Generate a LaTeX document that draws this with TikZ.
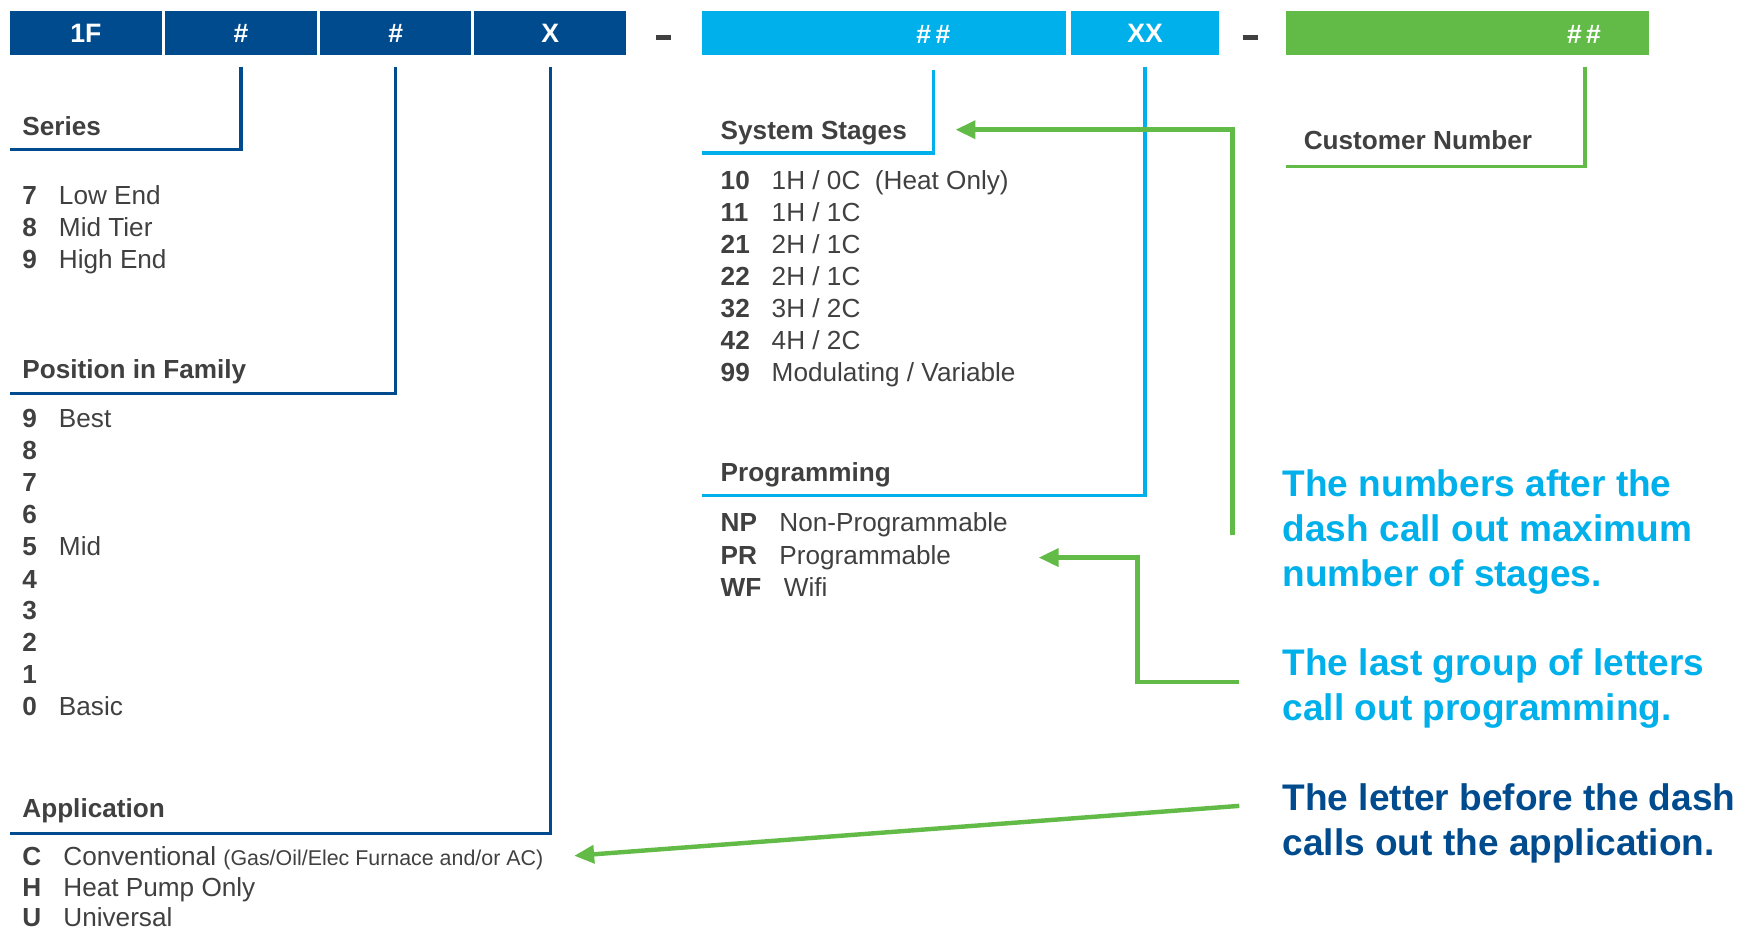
\documentclass[tikz,border=0pt]{standalone}
\usepackage{fontspec}
\setmainfont{Liberation Sans}
\usetikzlibrary{
  positioning,
  arrows.meta
}
\definecolor{codeblue}{RGB}{0,75,141}
\definecolor{stageblue}{RGB}{0,176,234}
\definecolor{custgreen}{RGB}{98,187,70}
\definecolor{textgray}{RGB}{64,64,64}

\begin{document}
\begin{tikzpicture}[
    x=1pt, y=-1pt, >={Triangle[length=18pt,width=16pt]},
    font=\fontsize{23.6}{28}\selectfont,
    seg/.style={
      minimum height=40pt,
      inner sep=0pt,
      text=white,
      font=\fontsize{24}{28}\selectfont\bfseries
    },
    gap/.style={fill=textgray, inner sep=0pt, minimum width=13.5pt, minimum height=4.5pt},
    head/.style={anchor=base west, inner sep=0pt, text=textgray, font=\fontsize{23.6}{28}\selectfont\bfseries},
    code/.style={anchor=base west, inner sep=0pt, text=textgray, font=\fontsize{23.6}{28}\selectfont\bfseries},
    item/.style={anchor=base west, inner sep=0pt, text=textgray},
    note/.style={anchor=base west, inner sep=0pt, align=left, font=\fontsize{33.4}{40.5}\selectfont\bfseries},
    dkline/.style={codeblue, line width=3pt},
    ltline/.style={stageblue, line width=3pt},
    gnline/.style={custgreen, line width=3pt},
    pointer/.style={custgreen, line width=4pt, ->}
  ]
  \useasboundingbox (0,0) rectangle (1567,839);

  \begin{scope}
    % model number bar
    \node[seg, fill=codeblue, minimum width=137pt] (fam) at (77.5,30) {1F};
    \node[seg, fill=codeblue, minimum width=137pt] (ser) at (217.5,30) {\#};
    \node[seg, fill=codeblue, minimum width=136pt] (pos) at (357,30) {\#};
    \node[seg, fill=codeblue, minimum width=137pt] (app) at (496.5,30) {X};
    \node[gap] (dasha) at (598.5,34) {};
    \node[seg, fill=stageblue, minimum width=329pt] (stg) at (797.5,30) {};
    \node[seg] (stgnum) at (842,31) {\#\,\#};
    \node[seg, fill=stageblue, minimum width=134pt] (prg) at (1033,30) {XX};
    \node[gap] (dashb) at (1128.5,34) {};
    \node[seg, fill=custgreen, minimum width=328pt] (cust) at (1324,30) {};
    \node[seg] (custnum) at (1429,31) {\#\,\#};

    % brackets
    \coordinate (serend) at (9,135);
    \coordinate (posend) at (9,355);
    \coordinate (append) at (9,752);
    \coordinate (stgtop) at (842,63);
    \coordinate (stgend) at (633,138);
    \coordinate (prgend) at (633,447);
    \coordinate (custtop) at (1430,60);
    \coordinate (custend) at (1160,150);
    \draw[dkline] ([yshift=-10pt]ser.south) |- (serend);
    \draw[dkline] ([yshift=-10pt]pos.south) |- (posend);
    \draw[dkline] ([yshift=-10pt]app.south) |- (append);
    \draw[ltline] (stgtop) |- (stgend);
    \draw[ltline] ([yshift=-10pt]prg.south) |- (prgend);
    \draw[gnline] (custtop) |- (custend);

    % series
    \node[head] (serhd) at (20,122) {Series};
    \node[code] (ser7) at (20,184.5) {7};
    \node[item] (ser7t) at (53,184.5) {Low End};
    \node[code] (ser8) at (20,213.5) {8};
    \node[item] (ser8t) at (53,213.5) {Mid Tier};
    \node[code] (ser9) at (20,242.5) {9};
    \node[item] (ser9t) at (53,242.5) {High End};

    % position in family
    \node[head] (poshd) at (20,341.5) {Position in Family};
    \node[code] (pos9) at (20,385.5) {9};
    \node[item] (pos9t) at (53,385.5) {Best};
    \node[code] (pos8) at (20,414.5) {8};
    \node[code] (pos7) at (20,443.5) {7};
    \node[code] (pos6) at (20,472.5) {6};
    \node[code] (pos5) at (20,501.5) {5};
    \node[item] (pos5t) at (53,501.5) {Mid};
    \node[code] (pos4) at (20,530.5) {4};
    \node[code] (pos3) at (20,558.5) {3};
    \node[code] (pos2) at (20,587.5) {2};
    \node[code] (pos1) at (20,616.5) {1};
    \node[code] (pos0) at (20,645.5) {0};
    \node[item] (pos0t) at (53,645.5) {Basic};

    % application
    \node[head] (apphd) at (20,737.5) {Application};
    \node[code] (appc) at (20,781) {C};
    \node[item] (appct) at (57,781) {Conventional {\fontsize{19.3}{22}\selectfont(Gas/Oil/Elec Furnace and/or AC)}};
    \node[code] (apph) at (20,809) {H};
    \node[item] (appht) at (57,809) {Heat Pump Only};
    \node[code] (appu) at (20,836) {U};
    \node[item] (apput) at (57,836) {Universal};

    % system stages
    \node[head] (stghd) at (650,125.5) {System Stages};
    \node[code] (stg10) at (650,170.5) {10};
    \node[item] (stg10t) at (696,170.5) {1H / 0C\ \ (Heat Only)};
    \node[code] (stg11) at (650,199.5) {11};
    \node[item] (stg11t) at (696,199.5) {1H / 1C};
    \node[code] (stg21) at (650,228.5) {21};
    \node[item] (stg21t) at (696,228.5) {2H / 1C};
    \node[code] (stg22) at (650,257.5) {22};
    \node[item] (stg22t) at (696,257.5) {2H / 1C};
    \node[code] (stg32) at (650,286.5) {32};
    \node[item] (stg32t) at (696,286.5) {3H / 2C};
    \node[code] (stg42) at (650,315.5) {42};
    \node[item] (stg42t) at (696,315.5) {4H / 2C};
    \node[code] (stg99) at (650,344.5) {99};
    \node[item] (stg99t) at (696,344.5) {Modulating / Variable};

    % programming
    \node[head] (prghd) at (650,434.5) {Programming};
    \node[code] (prgnp) at (650,479.5) {NP};
    \node[item] (prgnpt) at (703,479.5) {Non-Programmable};
    \node[code] (prgpr) at (650,509.5) {PR};
    \node[item] (prgprt) at (703,509.5) {Programmable};
    \node[code] (prgwf) at (650,538.5) {WF};
    \node[item] (prgwft) at (707,538.5) {Wifi};

    % customer number
    \node[head] (custhd) at (1176,134.5) {Customer Number};

    % call outs (base = last line)
    \node[note, text=stageblue] (stgnote) at (1157,529) {The numbers after the\\dash call out maximum\\number of stages.};
    \node[note, text=stageblue] (prgnote) at (1157,650) {The last group of letters\\call out programming.};
    \node[note, text=codeblue] (appnote) at (1157,772) {The letter before the dash\\calls out the application.};

    % pointers
    \coordinate (stgfrom) at (1112,483);
    \coordinate (stgtip) at (862,117);
    \coordinate (prgfrom) at (1118,615);
    \coordinate (prgbend) at (1026,503);
    \coordinate (prgtip) at (937,503);
    \coordinate (appfrom) at (1118,727);
    \coordinate (apptip) at (518,772);
    \draw[pointer] (stgfrom) |- (stgtip);
    \draw[pointer] (prgfrom) -| (prgbend) -- (prgtip);
    \draw[pointer] (appfrom) -- (apptip);
  \end{scope}
\end{tikzpicture}
\end{document}
